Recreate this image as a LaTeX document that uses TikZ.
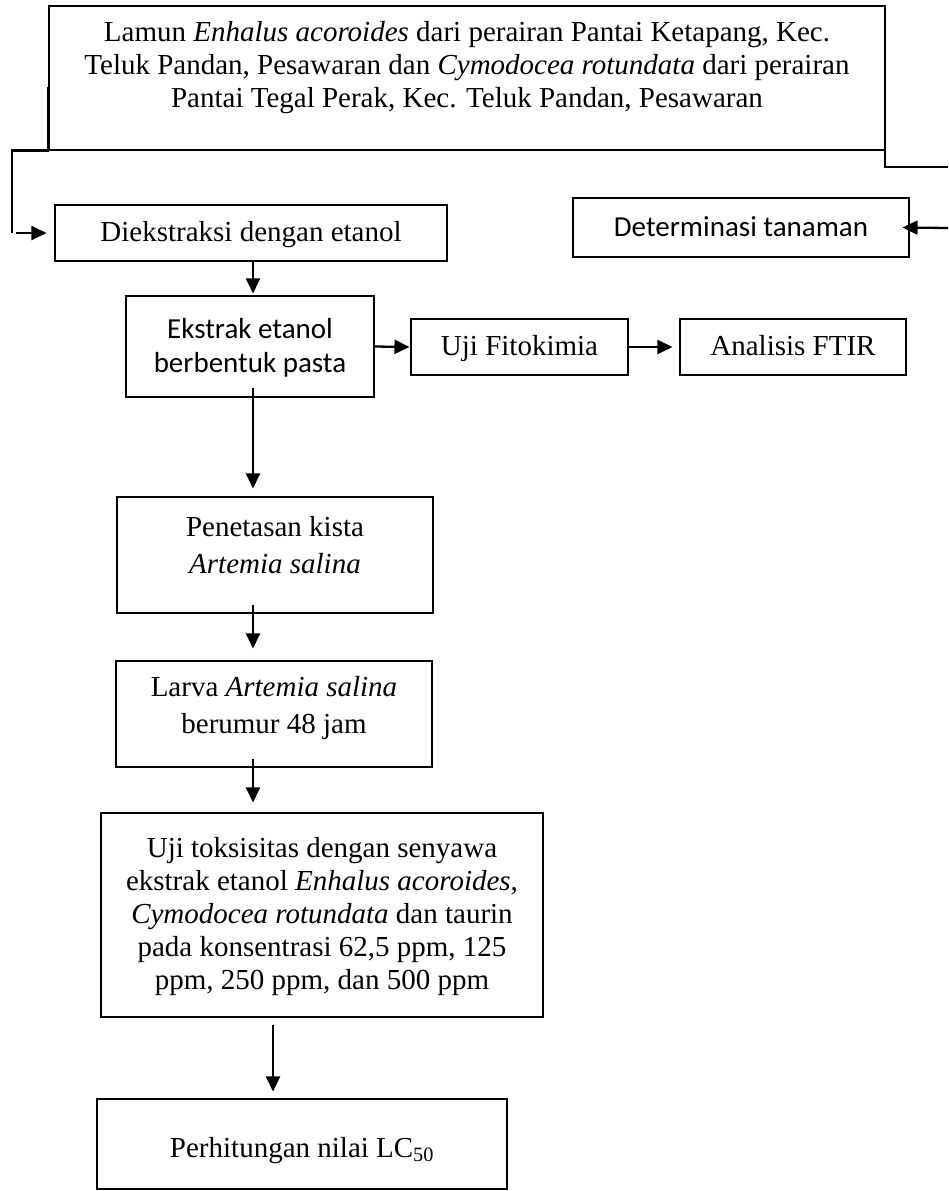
\documentclass[tikz,border=0pt]{standalone}
\usepackage{fontspec}
\setmainfont{Liberation Serif}
\newfontfamily\calib{Carlito}
\usetikzlibrary{arrows.meta,calc}
\begin{document}
\begin{tikzpicture}[x=1pt,y=-1pt,
  box/.style={draw=black, line width=1.1pt, inner sep=0pt},
  txt/.style={align=center, inner sep=0pt, font=\fontsize{29}{33}\selectfont},
  oneline/.style={text height=20pt, text depth=6pt},
  wide/.style={align=center, inner sep=0pt, font=\fontsize{29}{37.5}\selectfont},
  arr/.style={line width=2.3pt, -{Triangle[length=15pt,width=14pt]}},
  ln/.style={line width=2.3pt}]
\useasboundingbox (0,0) rectangle (948,1191);

% boxes
\node[box, minimum width=836pt, minimum height=144pt] (top) at (467,78) {};
\node[txt] (topT) at (467,68) {Lamun \textit{Enhalus acoroides} dari perairan Pantai Ketapang, Kec.\\ Teluk Pandan, Pesawaran dan \textit{Cymodocea rotundata} dari perairan\\ Pantai Tegal Perak, Kec. Teluk Pandan, Pesawaran};

\node[box, minimum width=392pt, minimum height=56pt] (diek) at (251,233) {};
\node[txt, oneline] (diekT) at (251,234) {Diekstraksi dengan etanol};

\node[box, minimum width=336pt, minimum height=59pt] (det) at (741,227.5) {};
\node[txt, oneline, font=\calib\fontsize{29}{33}\selectfont] (detT) at (741,229) {Determinasi tanaman};

\node[box, minimum width=248pt, minimum height=101pt] (ekstrak) at (250,346.5) {};
\node[txt, font=\calib\fontsize{29}{34}\selectfont] (ekstrakT) at (250,348) {Ekstrak etanol\\ berbentuk pasta};

\node[box, minimum width=217pt, minimum height=56pt] (fito) at (519.5,347) {};
\node[txt, oneline] (fitoT) at (519.5,348) {Uji Fitokimia};

\node[box, minimum width=226pt, minimum height=56pt] (ftir) at (793,347) {};
\node[txt, oneline] (ftirT) at (793,348) {Analisis FTIR};

\node[box, minimum width=316pt, minimum height=116pt] (pen) at (275,555) {};
\node[wide] (penT) at (275,545) {Penetasan kista\\ \textit{Artemia salina}};

\node[box, minimum width=316pt, minimum height=106pt] (larva) at (274,714) {};
\node[wide] (larvaT) at (274,708) {Larva \textit{Artemia salina}\\ berumur 48 jam};

\node[box, minimum width=442pt, minimum height=204pt] (uji) at (322,915) {};
\node[txt] (ujiT) at (322,917) {Uji toksisitas dengan senyawa\\ ekstrak etanol \textit{Enhalus acoroides},\\ \textit{Cymodocea rotundata} dan taurin\\ pada konsentrasi 62,5 ppm, 125\\ ppm, 250 ppm, dan 500 ppm};

\node[box, minimum width=410pt, minimum height=90pt] (perh) at (302,1144) {};
\node[txt, oneline] (perhT) at (302,1150) {Perhitungan nilai LC\textsubscript{50}};

% helper coordinates
\coordinate (ax) at (253,0);
\coordinate (bx) at (273,0);
\coordinate (lT) at (48,87);
\coordinate (lB) at (12,233);
\coordinate (rT) at (885,93);
\coordinate (rE) at (948,167);
\coordinate (rA) at (948,228);

% connectors
\draw[ln] (lT) -- (lT |- top.south) -| (lB);
\draw[arr] ($(lB)+(4,0)$) -- ($(diek.west)+(-8,0)$);
\draw[ln] (rT) |- (rE);
\draw[arr] (rA) -- ($(det.east)+(-7,0)$);

\draw[arr] (diek.south -| ax) -- ($(ekstrak.north -| ax)+(0,-2)$);
\draw[arr] (ekstrak.east) -- ($(fito.west)+(-1,0)$);
\draw[arr] (fito.east) -- ($(ftir.west)+(-7,0)$);
\draw[arr] ($(ekstrak.south -| ax)+(0,-10)$) -- ($(pen.north -| ax)+(0,-8)$);
\draw[arr] ($(pen.south -| ax)+(0,-9)$) -- ($(larva.north -| ax)+(0,-12)$);
\draw[arr] ($(larva.south -| ax)+(0,-9)$) -- ($(uji.north -| ax)+(0,-10)$);
\draw[arr] ($(uji.south -| bx)+(0,7)$) -- ($(perh.north -| bx)+(0,-7)$);
\end{tikzpicture}
\end{document}
